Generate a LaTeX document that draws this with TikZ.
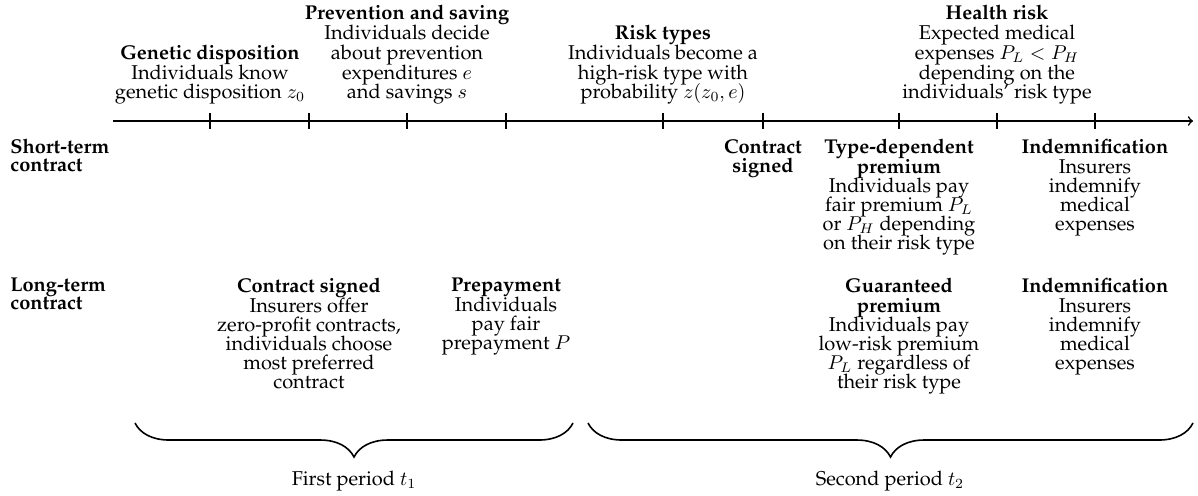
\documentclass[tikz,border=0pt]{standalone}
\usepackage[T1]{fontenc}
\usepackage{palatino}
\usepackage{amsmath,amssymb,tikz}
\usetikzlibrary{decorations.pathreplacing,positioning}
\newcommand\tightlines[1]{\fontsize{10}{#1}\selectfont\lineskiplimit=-\maxdimen}
\tikzset{toplabel/.style={align=center,inner sep=0pt,anchor=south,font=\tightlines{9.9}},
         rowlabel/.style={align=center,inner sep=0pt,anchor=north,font=\tightlines{9.6}},
         sidelabel/.style={align=left,inner sep=0pt,anchor=north west,font=\tightlines{8.7}\bfseries},
         period/.style={decorate,decoration={brace,mirror,amplitude=17pt}}
}
\begin{document}
\begin{tikzpicture}[x=0.5pt,y=0.5pt,draw/.append style={thick,black}]
  \useasboundingbox(0,0)rectangle(1198,-495);
  % time line
  \coordinate(start)at(113,-121);
  \coordinate(end)at(1193,-121);
  \draw[->](start)--(end);
  \foreach\x [count=\i] in {210,309,407,506,663,763,899,997,1095} {
     \coordinate(t\i)at(\x,-121);
     \draw(\x,-113)--(\x,-129);
  }
  % events above the time line
  \node[toplabel](gen)at(210,-105){\textbf{Genetic disposition}\\Individuals know\\genetic disposition $z_0$};
  \node[toplabel](prev)at(407,-105){\textbf{Prevention and saving}\\Individuals decide\\about prevention\\expenditures $e$\\and savings $s$};
  \node[toplabel](types)at(663,-105){\textbf{Risk types}\\Individuals become a\\high-risk type with\\probability $z(z_0,e)$};
  \node[toplabel](health)at(997,-105){\textbf{Health risk}\\Expected medical\\expenses $P_L<P_H$\\depending on the\\individuals' risk type};
  % short-term contract
  \node[sidelabel](short)at(10,-139){Short-term\\contract};
  \node[rowlabel,font=\tightlines{9.3}\bfseries](ssign)at(763,-139){Contract\\signed};
  \node[rowlabel](sprem)at(899,-139){\textbf{Type-dependent}\\\textbf{premium}\\Individuals pay\\fair premium $P_L$\\or $P_H$ depending\\on their risk type};
  \node[rowlabel](sind)at(1095,-139){\textbf{Indemnification}\\Insurers\\indemnify\\medical\\expenses};
  % long-term contract
  \node[sidelabel](long)at(10,-278){Long-term\\contract};
  \node[rowlabel](lsign)at(309,-278){\textbf{Contract signed}\\Insurers offer\\zero-profit contracts,\\individuals choose\\most preferred\\contract};
  \node[rowlabel](lpre)at(506,-278){\textbf{Prepayment}\\Individuals\\pay fair\\prepayment $P$};
  \node[rowlabel](lprem)at(899,-278){\textbf{Guaranteed}\\\textbf{premium}\\Individuals pay\\low-risk premium\\$P_L$ regardless of\\their risk type};
  \node[rowlabel](lind)at(1095,-278){\textbf{Indemnification}\\Insurers\\indemnify\\medical\\expenses};
  % periods
  \coordinate(p1a)at(135,-423);
  \coordinate(p1b)at(573,-423);
  \coordinate(p2a)at(588,-423);
  \coordinate(p2b)at(1193,-423);
  \draw[period](p1a)--(p1b);
  \draw[period](p2a)--(p2b);
  \node[anchor=base](first)at(354,-485){First period $t_1$};
  \node[anchor=base](second)at(890,-485){Second period $t_2$};
\end{tikzpicture}
\end{document}
